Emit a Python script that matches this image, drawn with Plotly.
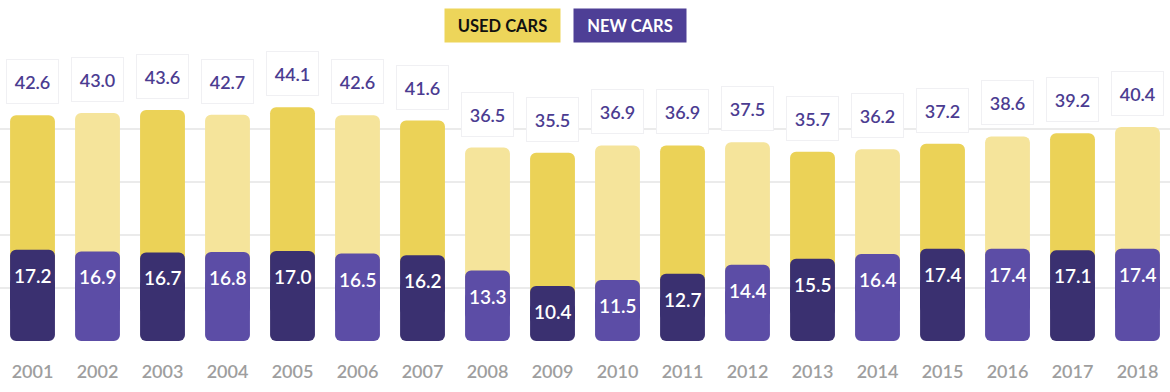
import plotly.graph_objects as go

years = [str(y) for y in range(2001, 2019)]
used_cars = [42.6, 43.0, 43.6, 42.7, 44.1, 42.6, 41.6, 36.5, 35.5, 36.9, 36.9, 37.5, 35.7, 36.2, 37.2, 38.6, 39.2, 40.4]
new_cars = [17.2, 16.9, 16.7, 16.8, 17.0, 16.5, 16.2, 13.3, 10.4, 11.5, 12.7, 14.4, 15.5, 16.4, 17.4, 17.4, 17.1, 17.4]

yellow_dark, yellow_light = "#EBD257", "#F5E49B"
purple_dark, purple_light = "#3A3070", "#5C4DA6"
label_color = "#4B3C91"

n = len(years)
yc = [yellow_dark if i % 2 == 0 else yellow_light for i in range(n)]
pc = [purple_dark if i % 2 == 0 else purple_light for i in range(n)]

low_cut = [v * 0.3 for v in new_cars]
high_cut = [v * 0.7 for v in new_cars]
bw = 0.69

fig = go.Figure()
# used cars (yellow) - starts behind the purple bar
fig.add_trace(go.Bar(x=years, y=[u - h for u, h in zip(used_cars, high_cut)], base=high_cut,
                     marker=dict(color=yc, cornerradius=6, line=dict(width=0)), width=bw,
                     name="Used cars", showlegend=False, hoverinfo="skip"))
# new cars (purple) upper part, rounded top
fig.add_trace(go.Bar(x=years, y=[v - c for v, c in zip(new_cars, low_cut)], base=low_cut,
                     marker=dict(color=pc, cornerradius=6, line=dict(width=0)), width=bw,
                     name="New cars", showlegend=False, hoverinfo="skip"))
# new cars lower part, rounded bottom
fig.add_trace(go.Bar(x=years, y=[-c for c in high_cut], base=high_cut,
                     marker=dict(color=pc, cornerradius=6, line=dict(width=0)), width=bw,
                     name="New cars", showlegend=False, hoverinfo="skip"))

annotations = []
for i, (u, nv) in enumerate(zip(used_cars, new_cars)):
    annotations.append(dict(x=i, y=u, xref="x", yref="y", text=f"{u:.1f}", showarrow=False,
                            yanchor="bottom", yshift=11, width=49, height=41,
                            bgcolor="white", bordercolor="#F0F0F3", borderwidth=1,
                            font=dict(family="Lato, sans-serif", size=18, color=label_color, weight=600)))
    annotations.append(dict(x=i, y=nv, xref="x", yref="y", text=f"{nv:.1f}", showarrow=False,
                            yanchor="top", yshift=-12,
                            font=dict(family="Lato, sans-serif", size=19, color="white", weight=600)))

annotations.append(dict(x=502.5 / 1170, y=(341 - 25.5) / 265, xref="paper", yref="paper",
                        xanchor="center", yanchor="middle",
                        text="<b>USED CARS</b>", showarrow=False, width=113, height=31,
                        bgcolor="#EDD55A", font=dict(family="Lato, sans-serif", size=16.5, color="#111111")))
annotations.append(dict(x=630 / 1170, y=(341 - 25.5) / 265, xref="paper", yref="paper",
                        xanchor="center", yanchor="middle",
                        text="<b>NEW CARS</b>", showarrow=False, width=110, height=31,
                        bgcolor="#4E3F96", font=dict(family="Lato, sans-serif", size=16.5, color="white")))

fig.update_layout(
    width=1170, height=392,
    margin=dict(l=0, r=0, t=76, b=51),
    barmode="overlay",
    plot_bgcolor="white", paper_bgcolor="white",
    annotations=annotations,
    showlegend=False,
    xaxis=dict(type="category", range=[-0.5, n - 0.5], showgrid=False, zeroline=False,
               showline=False, ticks="", ticklabelstandoff=18,
               tickfont=dict(family="Lato, sans-serif", size=18, color="#9E9E9E", weight=600)),
    yaxis=dict(range=[0, 50], dtick=10, showgrid=True, gridcolor="#EBEBEB", gridwidth=2,
               zeroline=False, showticklabels=False, ticks=""),
)

fig.write_html("out.html", config={"displayModeBar": False},
               post_script="document.body.style.margin='0';document.body.style.overflow='hidden';")
